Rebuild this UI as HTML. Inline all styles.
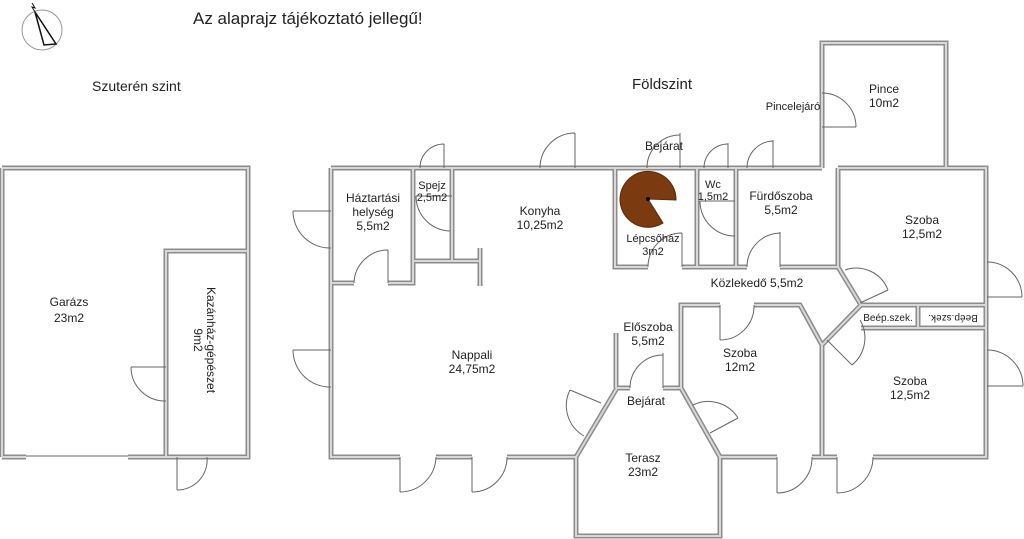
<!DOCTYPE html>
<html><head><meta charset="utf-8"><style>
html,body{margin:0;padding:0;background:#fff;width:1024px;height:539px;overflow:hidden}
svg text{font-family:"Liberation Sans",sans-serif;fill:#222}
</style></head><body>
<svg width="1024" height="539" viewBox="0 0 1024 539" xmlns="http://www.w3.org/2000/svg">
<defs>
<g id="walls">
<path d="M2,168 H248 V457 H128 M26,457 H2 Z M2,168 V457"/>
<path d="M166,457 V251 H248"/>
<path d="M177,457 H166 M207,457 H248"/>
<path d="M331,168 H822 M838,168 H986 V457 H873 M837,457 H812 M777,457 H720 V536 H576 V457 H507 M472,457 H436 M400,457 H331 V168"/>
<path d="M822,168 V43 H946 V168"/>
<path d="M331,283 H354 M388,283 H413 V168"/>
<path d="M413,261 H480 M480,248 V286"/>
<path d="M452,168 V261"/>
<path d="M615,168 V267 H648 M682,267 H747 M780,267 H838 V168"/>
<path d="M697,168 V267 M736,168 V267"/>
<path d="M838,267 L861,305 H986 M861,305 L822,345 V457"/>
<path d="M861,328 H986 M918,305 V328"/>
<path d="M720,305 H681 V388 L720,457 M754,305 H800 L822,345"/>
<path d="M617,388 H630 M663,388 H681 M617,388 L576,457"/>
<path d="M616,333 V388"/>
</g>
<g id="doors">
<path d="M26,456 H128"/>
<path d="M131,367 H166 M131,367 A34,34 0 0 0 166,401"/>
<path d="M177,457 V490 M177,490 A30,30 0 0 0 207,457"/>
<path d="M293,211 H331 M293,211 A37,37 0 0 0 331,248"/>
<path d="M293,350 H331 M293,350 A37,37 0 0 0 331,387"/>
<path d="M388,283 V250 M354,283 A34,34 0 0 1 388,250"/>
<path d="M444,168 V144 M420,168 A24,24 0 0 1 444,144"/>
<path d="M416,196 A35,35 0 0 0 450,231 M416,196 H452"/>
<path d="M575,168 V133 M540,168 A35,35 0 0 1 575,133"/>
<path d="M680,168 V133 M647,168 A33,33 0 0 1 680,135"/>
<path d="M682,267 V233 M648,267 A34,34 0 0 1 682,233"/>
<path d="M728,168 V143 M704,168 A24,24 0 0 1 728,144"/>
<path d="M700,201 H735 M700,201 A35,35 0 0 0 735,236"/>
<path d="M773,168 V140 M747,168 A27,27 0 0 1 773,141"/>
<path d="M780,267 V232 M747,267 A34,34 0 0 1 780,233"/>
<path d="M822,127 H856 M822,93 A34,34 0 0 1 856,127"/>
<path d="M987,297 H1022 M987,262 A35,35 0 0 1 1022,297"/>
<path d="M987,386 H1023 M987,350 A36,36 0 0 1 1023,386"/>
<path d="M860,303 L888,290 M845,270 A34,34 0 0 1 888,290"/>
<path d="M720,305 V340 M720,340 A34,34 0 0 0 754,305"/>
<path d="M710,433 L738,418 M693,405 A35,35 0 0 1 738,418"/>
<path d="M827,340 L852,365 A35,35 0 0 0 860,320"/>
<path d="M663,388 V353 M630,388 A33,33 0 0 1 663,355"/>
<path d="M601,403 L570,390 M570,390 A35,35 0 0 0 584,436"/>
<path d="M400,457 V492 M400,492 A36,36 0 0 0 436,457"/>
<path d="M472,457 V492 M472,492 A35,35 0 0 0 507,457"/>
<path d="M777,457 V493 M777,493 A35,35 0 0 0 812,457"/>
<path d="M837,457 V493 M837,493 A36,36 0 0 0 873,457"/>
</g>
</defs>
<g fill="none" stroke="#8c8c8c" stroke-width="5" stroke-linejoin="miter"><use href="#walls"/></g>
<g fill="none" stroke="#d8d8d8" stroke-width="2"><use href="#walls"/></g>
<g fill="none" stroke="#666" stroke-width="1"><use href="#doors"/></g>

<path d="M648,199 L676,200 A28,28 0 1 0 663,223 Z" fill="#7b3a10" stroke="#5a2a08" stroke-width="1"/>
<circle cx="648" cy="199" r="2" fill="#000"/>

<g fill="none" stroke="#555" stroke-width="1">
<circle cx="42" cy="30" r="20" stroke="#999"/>
<path d="M35,12 L44,45 L56,44 Z" stroke="#111" stroke-width="1.5"/>
<path d="M32,3 L35,8 L32,7 L35,12" stroke="#111"/>
</g>

<text x="193" y="24" font-size="17">Az alaprajz tájékoztató jellegű!</text>
<text x="92" y="91" font-size="14">Szuterén szint</text>
<text x="632" y="89" font-size="15">Földszint</text>
<g font-size="12" text-anchor="middle">
<text x="69" y="306">Garázs</text><text x="69" y="322">23m2</text>
<text x="373" y="202">Háztartási</text><text x="373" y="216">helység</text><text x="373" y="230">5,5m2</text>
<text x="432" y="189" font-size="11">Spejz</text><text x="432" y="201" font-size="11">2,5m2</text>
<text x="540" y="215">Konyha</text><text x="540" y="229">10,25m2</text>
<text x="664" y="150">Bejárat</text>
<text x="653" y="242" font-size="11">Lépcsőház</text><text x="653" y="255" font-size="11">3m2</text>
<text x="713" y="188" font-size="11">Wc</text><text x="713" y="200" font-size="11">1,5m2</text>
<text x="781" y="200">Fürdőszoba</text><text x="781" y="214">5,5m2</text>
<text x="793" y="110" font-size="11">Pincelejáró</text>
<text x="884" y="93">Pince</text><text x="884" y="107">10m2</text>
<text x="922" y="224">Szoba</text><text x="922" y="238">12,5m2</text>
<text x="757" y="287">Közlekedő  5,5m2</text>
<text x="888" y="321" font-size="10">Beép.szek.</text>
<text x="953" y="315" font-size="10" transform="rotate(180 953 315)">Beép.szek.</text>
<text x="648" y="331">Előszoba</text><text x="648" y="345">5,5m2</text>
<text x="740" y="357">Szoba</text><text x="740" y="371">12m2</text>
<text x="910" y="385">Szoba</text><text x="910" y="399">12,5m2</text>
<text x="472" y="359">Nappali</text><text x="472" y="373">24,75m2</text>
<text x="646" y="405">Bejárat</text>
<text x="643" y="462">Terasz</text><text x="643" y="476">23m2</text>
</g>
<g font-size="12" text-anchor="middle" transform="rotate(90 205 340)">
<text x="205" y="338">Kazánház-gépészet</text><text x="205" y="351">9m2</text>
</g>
</svg>
</body></html>
